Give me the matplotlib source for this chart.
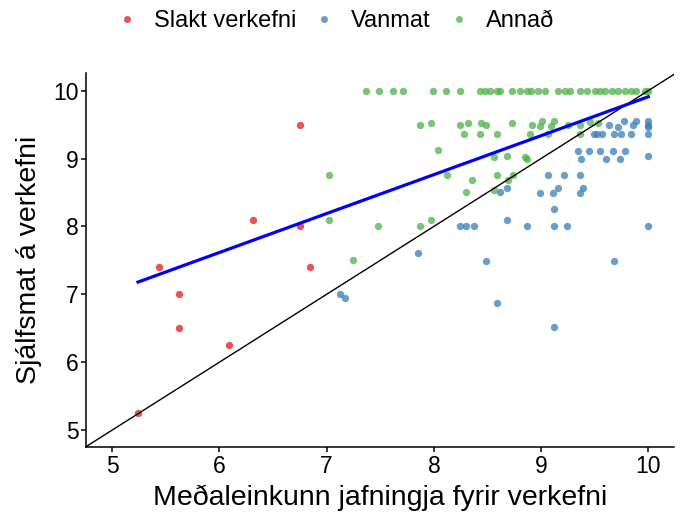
import matplotlib
matplotlib.use("Agg")
import matplotlib.pyplot as plt
from matplotlib.lines import Line2D

plt.rcParams['font.family'] = ['Liberation Sans', 'DejaVu Sans']

# Slakt verkefni
slakt_x = [5.24, 5.44, 5.62, 5.62, 6.09, 6.31, 6.75, 6.75, 6.84]
slakt_y = [5.25, 7.40, 7.00, 6.50, 6.25, 8.10, 9.50, 8.00, 7.40]

# Vanmat
vanmat_x = [7.12, 7.17, 7.85, 8.24, 8.30, 8.37, 8.49, 8.59, 8.62, 8.68, 8.68, 8.87,
            8.99, 9.06, 9.11, 9.12, 9.12, 9.12, 9.16, 9.21, 9.24, 9.36, 9.36, 9.39,
            9.34, 9.37, 9.45, 9.49, 9.52, 9.55, 9.57, 9.61, 9.63, 9.67, 9.68, 9.68,
            9.72, 9.74, 9.75, 9.77, 9.78, 9.84, 9.86, 9.89, 10.0, 10.0, 10.0, 10.0,
            10.0, 10.0]
vanmat_y = [7.00, 6.95, 7.61, 8.00, 8.00, 8.00, 7.49, 6.87, 8.50, 8.56, 8.09, 8.00,
            8.49, 8.75, 8.49, 8.25, 8.00, 6.52, 8.56, 8.75, 8.00, 8.75, 8.49, 8.56,
            9.11, 8.99, 9.11, 9.36, 9.36, 9.11, 9.36, 8.99, 9.50, 9.11, 9.36, 7.49,
            9.47, 8.99, 9.36, 9.56, 9.11, 9.36, 9.50, 9.56, 9.56, 9.50, 9.47, 9.36,
            9.04, 8.00]

# Annað
annad_x = [7.37, 7.49, 7.62, 7.71, 7.99, 8.11, 8.24, 8.43, 8.48, 8.52, 8.59, 8.62,
           8.73, 8.80, 8.87, 8.91, 8.97, 9.04, 9.16, 9.22, 9.27, 9.36, 9.43, 9.50,
           9.55, 9.60, 9.66, 9.72, 9.78, 9.84, 9.89, 9.97, 10.0,
           7.87, 7.97, 8.24, 8.32, 8.44, 8.49, 8.73, 8.92, 8.99, 9.01, 9.09, 9.12,
           9.25, 9.36, 9.46, 9.53,
           8.28, 8.43, 8.59, 8.90, 9.06, 9.36,
           8.04, 8.56, 8.68, 8.85, 8.87,
           7.02, 8.12, 8.36, 8.59, 8.69, 8.74,
           8.30, 8.56,
           7.02, 7.48, 7.87, 7.97, 7.25]
annad_y = [10.0] * 33 + \
          [9.49, 9.52, 9.49, 9.52, 9.52, 9.49, 9.52, 9.50, 9.48, 9.56, 9.48, 9.56,
           9.50, 9.49, 9.54, 9.53,
           9.36, 9.36, 9.36, 9.36, 9.36, 9.36,
           9.12, 9.02, 9.03, 9.02, 8.99,
           8.75, 8.75, 8.68, 8.75, 8.69, 8.75,
           8.50, 8.53,
           8.10, 8.00, 8.00, 8.10, 7.50]

# regression line
fit_x = [5.24, 10.0]
fit_y = [7.18, 9.91]

red = '#E41A1C'
blue = '#377EB8'
green = '#4DAF4A'

fig = plt.figure(figsize=(6.86, 5.2), dpi=100)
ax = fig.add_axes([0.1254, 0.1404, 0.8571, 0.7192])

ax.scatter(slakt_x, slakt_y, s=28, color=red, alpha=0.75, linewidths=0)
ax.scatter(vanmat_x, vanmat_y, s=28, color=blue, alpha=0.75, linewidths=0)
ax.scatter(annad_x, annad_y, s=28, color=green, alpha=0.75, linewidths=0)

ax.axline((5, 5), slope=1, color='black', lw=1)
ax.plot(fit_x, fit_y, color='#0000FF', lw=2.3)

ax.set_xlim(4.755, 10.24)
ax.set_ylim(4.75, 10.26)
ax.set_xticks([5, 6, 7, 8, 9, 10])
ax.set_yticks([5, 6, 7, 8, 9, 10])

for s in ['top', 'right']:
    ax.spines[s].set_visible(False)
for s in ['left', 'bottom']:
    ax.spines[s].set_linewidth(1.1)
ax.tick_params(labelsize=16.5, length=3.5, width=1.1, pad=2, colors='black')

ax.set_xlabel("Meðaleinkunn jafningja fyrir verkefni", fontsize=20.5, labelpad=5)
ax.set_ylabel("Sjálfsmat á verkefni", fontsize=20.5, labelpad=8)

handles = [Line2D([], [], marker='o', ls='', color=c, alpha=0.75, markersize=5, markeredgewidth=0)
           for c in [red, blue, green]]
fig.legend(handles, ["Slakt verkefni", "Vanmat", "Annað"], loc='center',
           bbox_to_anchor=(0.488, 0.96), ncol=3, frameon=False, fontsize=17,
           handlelength=1.0, handletextpad=0.64, columnspacing=0.7)

fig.savefig('out.png', dpi=100)
